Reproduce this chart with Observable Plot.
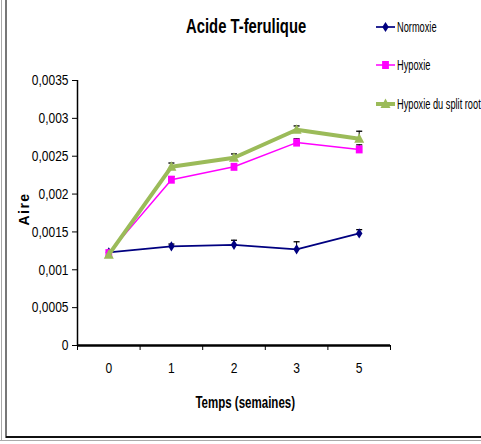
<!DOCTYPE html>
<html>
<head>
<meta charset="utf-8">
<script src="https://cdn.jsdelivr.net/npm/d3@7"></script>
<script src="https://cdn.jsdelivr.net/npm/@observablehq/plot@0.6"></script>
<style>
  html, body { margin: 0; padding: 0; background: #fff; }
  #wrap { position: relative; width: 481px; height: 444px; overflow: hidden; font-family: "Liberation Sans", Arial, sans-serif; }
  #wrap > svg { position: absolute; left: 0; top: 0; }
  .narrow { display: inline-block; transform: scaleX(0.72); }
  .title { position: absolute; left: 0; width: 492px; top: 15px; text-align: center; font-weight: bold; font-size: 20px; color: #000; }
  .title .narrow { transform: scaleX(0.74); }
  .xlabel { position: absolute; left: 0; width: 490px; top: 394px; text-align: center; font-weight: bold; font-size: 16px; color: #000; }
  .ylabel { position: absolute; left: 24px; top: 209px; transform: translate(-50%, -50%) rotate(-90deg); font-weight: bold; font-size: 14px; letter-spacing: 1.5px; white-space: nowrap; }
  .legend { position: absolute; left: 376px; top: 17px; font-size: 14px; color: #000; }
  .legend .item { display: flex; align-items: center; height: 19px; margin-bottom: 19.5px; white-space: nowrap; }
  .legend .item .narrow { transform-origin: left center; transform: scaleX(0.66); }
  .legend svg { margin-right: 2px; flex: none; }
  .frameL1 { position: absolute; left: 1px; top: 0; width: 1px; height: 441px; background: #aaa; }
  .frameL2 { position: absolute; left: 5px; top: 0; width: 2px; height: 438px; background: #777; }
  .frameB1 { position: absolute; left: 6px; top: 436px; width: 475px; height: 2px; background: #111; }
  .frameB2 { position: absolute; left: 0; top: 440px; width: 481px; height: 1px; background: #aaa; }
</style>
</head>
<body>
<div id="wrap"></div>
<script>
// ---- data ----
const weeks = ["0", "1", "2", "3", "5"];
const yTicks = [0, 0.0005, 0.001, 0.0015, 0.002, 0.0025, 0.003, 0.0035];
const yTickLabels = ["0", "0,0005", "0,001", "0,0015", "0,002", "0,0025", "0,003", "0,0035"];
const seriesNames = ["Normoxie", "Hypoxie", "Hypoxie du split root"];
const normoxie = [0.00123, 0.00131, 0.00133, 0.00127, 0.00148];
const normoxieErr = [0, 0.00003, 0.00006, 0.0001, 0.00005];
const hypoxie = [0.00122, 0.00219, 0.00236, 0.00268, 0.00259];
const hypoxieErr = [0, 0.00004, 0.00004, 0.00005, 0.00006];
const splitRoot = [0.0012, 0.00236, 0.00248, 0.00285, 0.00273];
const splitRootErr = [0, 0.00005, 0.00005, 0.00005, 0.0001];

const colors = ["#000080", "#FF00FF", "#9BBB59"];
const widths = [1.7, 1.5, 4];

const rows = [];
[[normoxie, normoxieErr], [hypoxie, hypoxieErr], [splitRoot, splitRootErr]].forEach(([vals, errs], s) => {
  vals.forEach((v, i) => rows.push({series: seriesNames[s], s, i, v, top: v + errs[i], err: errs[i]}));
});

// custom marker shapes (sqrt(size) = nominal extent)
const capSymbol = { draw(ctx, size) { const w = Math.sqrt(size); ctx.moveTo(-w / 2, 0); ctx.lineTo(w / 2, 0); } };
const diamondTall = { draw(ctx, size) { const h = Math.sqrt(size); ctx.moveTo(0, -h * 0.6); ctx.lineTo(h * 0.38, 0); ctx.lineTo(0, h * 0.6); ctx.lineTo(-h * 0.38, 0); ctx.closePath(); } };
const squareSym = { draw(ctx, size) { const h = Math.sqrt(size) / 2; ctx.rect(-h * 0.85, -h, h * 1.7, h * 2); } };
const triSym = { draw(ctx, size) { const h = Math.sqrt(size) / 2; ctx.moveTo(0, -h * 1.1); ctx.lineTo(h, h * 0.8); ctx.lineTo(-h, h * 0.8); ctx.closePath(); } };
const symbols = [diamondTall, squareSym, triSym];
const symExtent = [8.5, 8, 10];

const edges = d3.range(-0.5, weeks.length, 1);
const marks = [];
const errRows = rows.filter(d => d.err > 0);
marks.push(Plot.ruleX(errRows, {x: "i", y1: "v", y2: "top", stroke: "#000", strokeWidth: 1}));
marks.push(Plot.dot(errRows, {x: "i", y: "top", symbol: capSymbol, r: 3.4, stroke: "#000", strokeWidth: 1.3, fill: "none"}));
for (let s = 0; s < 3; s++) {
  const data = rows.filter(d => d.s === s);
  marks.push(Plot.line(data, {x: "i", y: "v", stroke: colors[s], strokeWidth: widths[s]}));
  marks.push(Plot.dot(data, {x: "i", y: "v", symbol: symbols[s], r: symExtent[s] / Math.sqrt(Math.PI), fill: colors[s], stroke: "none"}));
}
marks.push(Plot.axisY(yTicks, {anchor: "left", label: null, tickSize: 5, tickPadding: 4, tickFormat: d => yTickLabels[yTicks.indexOf(d)], fill: "#000", stroke: "#000"}));
marks.push(Plot.ruleX([-0.5], {y1: 0, y2: 0.0035, stroke: "#000", strokeWidth: 1.5}));
marks.push(Plot.axisX(edges, {anchor: "bottom", label: null, tickSize: 5, tickFormat: () => "", stroke: "#000"}));
marks.push(Plot.axisX(d3.range(weeks.length), {anchor: "bottom", label: null, tickSize: 0, tickPadding: 17, tickFormat: d => weeks[d], fill: "#000"}));
marks.push(Plot.ruleY([0], {x1: -0.5, x2: 4.5, stroke: "#000", strokeWidth: 2.5}));

const chart = Plot.plot({
  width: 481,
  height: 444,
  marginLeft: 77,
  marginRight: 91,
  marginTop: 80,
  marginBottom: 99,
  style: {fontFamily: '"Liberation Sans", Arial, sans-serif', background: "transparent", overflow: "visible"},
  x: {domain: [-0.5, 4.5], axis: null, label: null},
  y: {domain: [0, 0.0035], axis: null, label: null},
  marks
});

const wrap = document.getElementById("wrap");
wrap.appendChild(chart);
// larger, condensed svg texts (Arial Narrow look)
chart.querySelectorAll("text").forEach(t => {
  t.style.fontSize = "15px";
  const L = t.getComputedTextLength();
  if (L > 0) { t.setAttribute("textLength", (L * 0.8).toFixed(1)); t.setAttribute("lengthAdjust", "spacingAndGlyphs"); }
});

const add = (cls, text) => {
  const el = document.createElement("div"); el.className = cls;
  if (text) { const sp = document.createElement("span"); sp.className = "narrow"; sp.textContent = text; el.appendChild(sp); }
  wrap.appendChild(el); return el;
};
add("frameL1"); add("frameL2"); add("frameB1"); add("frameB2");
add("title", "Acide T-ferulique");
add("xlabel", "Temps (semaines)");
const yl = document.createElement("div"); yl.className = "ylabel"; yl.textContent = "Aire"; wrap.appendChild(yl);

const legend = document.createElement("div"); legend.className = "legend"; wrap.appendChild(legend);
seriesNames.forEach((name, s) => {
  const item = document.createElement("div");
  item.className = "item";
  const sw = d3.create("svg").attr("width", 19).attr("height", 14);
  sw.append("line").attr("x1", 0).attr("x2", 19).attr("y1", 7).attr("y2", 7).attr("stroke", colors[s]).attr("stroke-width", widths[s]);
  const ext = symExtent[s];
  sw.append("path").attr("transform", "translate(9.5,7)").attr("fill", colors[s])
    .attr("d", (() => { const p = d3.path(); symbols[s].draw(p, ext * ext); return p.toString(); })());
  item.appendChild(sw.node());
  const t = document.createElement("span");
  t.className = "narrow";
  t.textContent = name;
  item.appendChild(t);
  legend.appendChild(item);
});
</script>
</body>
</html>
